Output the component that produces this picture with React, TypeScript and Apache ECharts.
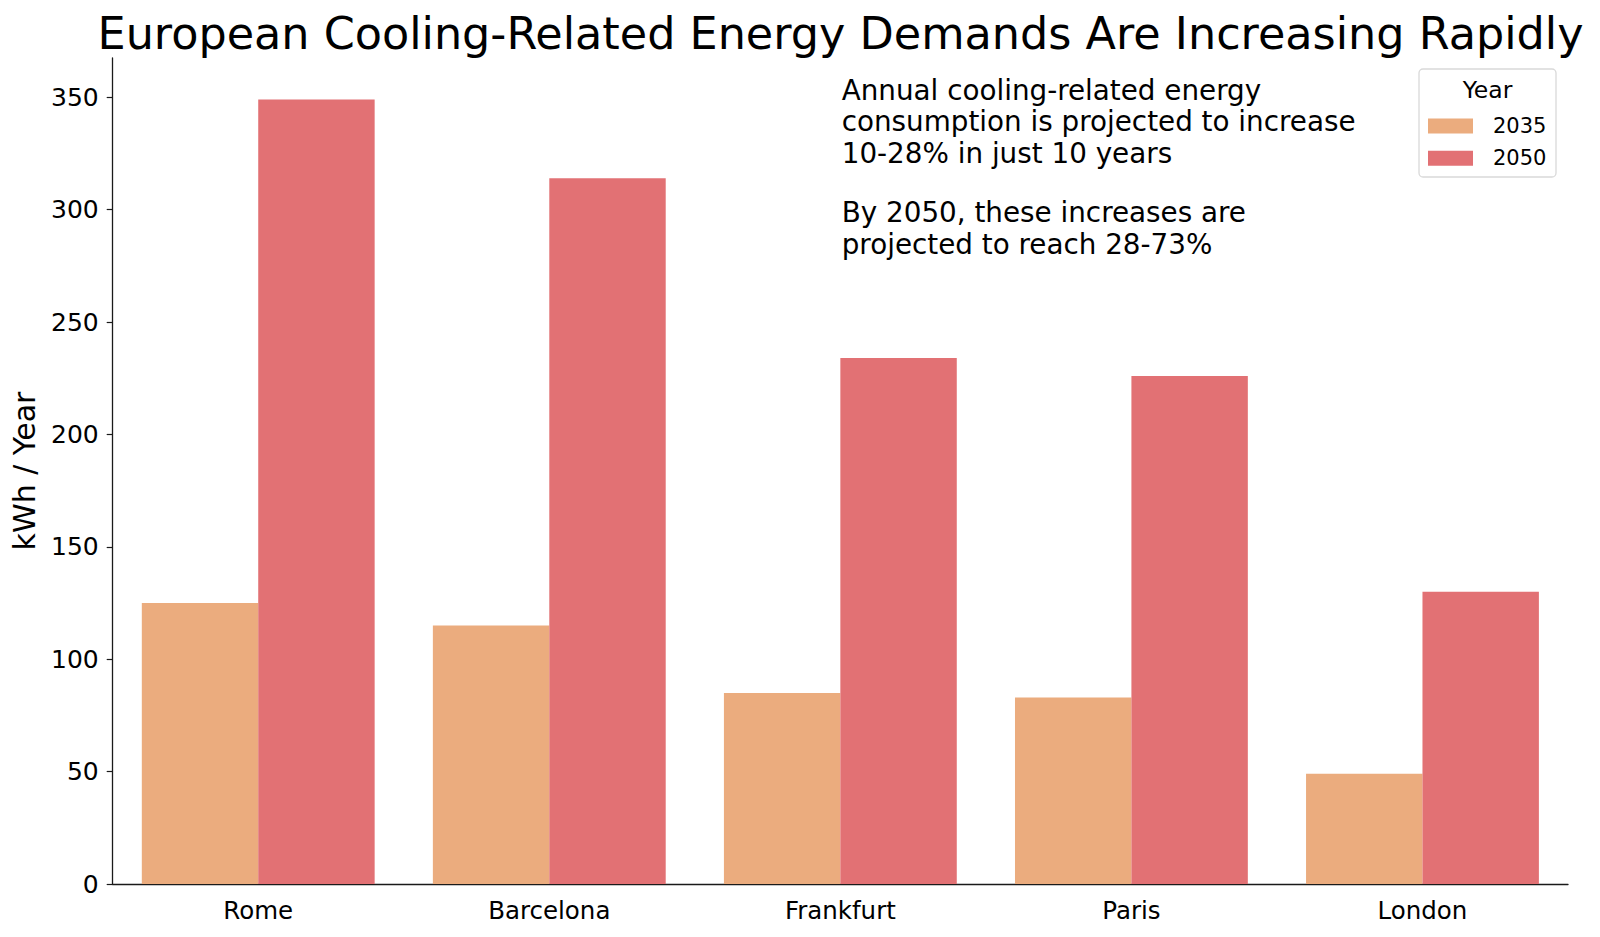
import React, { useEffect, useRef } from "react";
import * as echarts from "echarts";

const cities = ["Rome", "Barcelona", "Frankfurt", "Paris", "London"];
const years = ["2035", "2050"];
const values2035 = [125, 115, 85, 83, 49];
const values2050 = [349, 314, 234, 226, 130];
const yTicks = [0, 50, 100, 150, 200, 250, 300, 350];
const colors = ["#EBAC7E", "#E27174"];
const titleText = "European Cooling-Related Energy Demands Are Increasing Rapidly";
const noteBlock1 = [
  "Annual cooling-related energy",
  "consumption is projected to increase",
  "10-28% in just 10 years",
];
const noteBlock2 = ["By 2050, these increases are", "projected to reach 28-73%"];

const FONT = "DejaVu Sans";

export default function App() {
  const ref = useRef<HTMLDivElement>(null);
  useEffect(() => {
    if (!ref.current) return;
    const chart = echarts.init(ref.current, undefined, { renderer: "svg" });
    const noteStyle = {
      fontFamily: FONT,
      fontSize: 27.8,
      lineHeight: 31.8,
      fill: "#000",
      align: "left",
      verticalAlign: "top",
    };
    chart.setOption({
      animation: false,
      backgroundColor: "#ffffff",
      textStyle: { fontFamily: FONT },
      grid: { left: 112.7, right: 32, top: 58, bottom: 53, containLabel: false },
      legend: {
        orient: "vertical",
        left: 1428,
        top: 115.6,
        padding: 0,
        itemWidth: 45,
        itemHeight: 15,
        itemGap: 11.2,
        icon: "rect",
        data: years,
        textStyle: {
          fontFamily: FONT,
          fontSize: 21,
          color: "#000",
          padding: [0, 0, 0, 15],
        },
      },
      xAxis: {
        type: "category",
        data: cities,
        axisLine: { lineStyle: { color: "#1a1a1a", width: 1.3 } },
        axisTick: { alignWithLabel: true, length: 6, lineStyle: { color: "#1a1a1a", width: 1.2 } },
        axisLabel: { fontFamily: FONT, fontSize: 24.5, color: "#000", margin: 14 },
      },
      yAxis: {
        type: "value",
        min: 0,
        max: 367.5,
        name: "kWh / Year",
        nameLocation: "middle",
        nameGap: 73,
        nameTextStyle: { fontFamily: FONT, fontSize: 30, color: "#000" },
        splitLine: { show: false },
        axisLine: { show: true, lineStyle: { color: "#1a1a1a", width: 1.3 } },
        axisTick: {
          show: true,
          length: 6,
          customValues: yTicks,
          lineStyle: { color: "#1a1a1a", width: 1.2 },
        },
        axisLabel: {
          fontFamily: FONT,
          fontSize: 25,
          color: "#000",
          margin: 14,
          customValues: yTicks,
        },
      },
      series: [
        {
          name: years[0],
          type: "bar",
          data: values2035,
          itemStyle: { color: colors[0] },
          barGap: "0%",
          barCategoryGap: "20%",
          z: 1,
        },
        {
          name: years[1],
          type: "bar",
          data: values2050,
          itemStyle: { color: colors[1] },
          barGap: "0%",
          barCategoryGap: "20%",
          z: 1,
        },
      ],
      graphic: [
        {
          type: "text",
          x: 840.5,
          y: 33.3,
          style: {
            text: titleText,
            fontFamily: FONT,
            fontSize: 44.5,
            fill: "#000",
            align: "center",
            verticalAlign: "middle",
          },
        },
        {
          type: "text",
          x: 841.7,
          y: 74.2,
          style: { ...noteStyle, text: noteBlock1.join("\n") },
        },
        {
          type: "text",
          x: 841.7,
          y: 196.7,
          style: { ...noteStyle, text: noteBlock2.join("\n") },
        },
        {
          type: "rect",
          shape: { x: 1419, y: 69, width: 137, height: 108, r: 4 },
          style: { fill: "rgba(255,255,255,0.8)", stroke: "#d9d9d9", lineWidth: 1.3 },
          z: -1,
        },
        {
          type: "text",
          x: 1487.5,
          y: 90,
          style: {
            text: "Year",
            fontFamily: FONT,
            fontSize: 23.5,
            fill: "#000",
            align: "center",
            verticalAlign: "middle",
          },
        },
      ],
    });
    return () => chart.dispose();
  }, []);
  return (
    <div
      ref={ref}
      style={{ position: "absolute", left: 0, top: 0, width: 1600, height: 937 }}
    />
  );
}
